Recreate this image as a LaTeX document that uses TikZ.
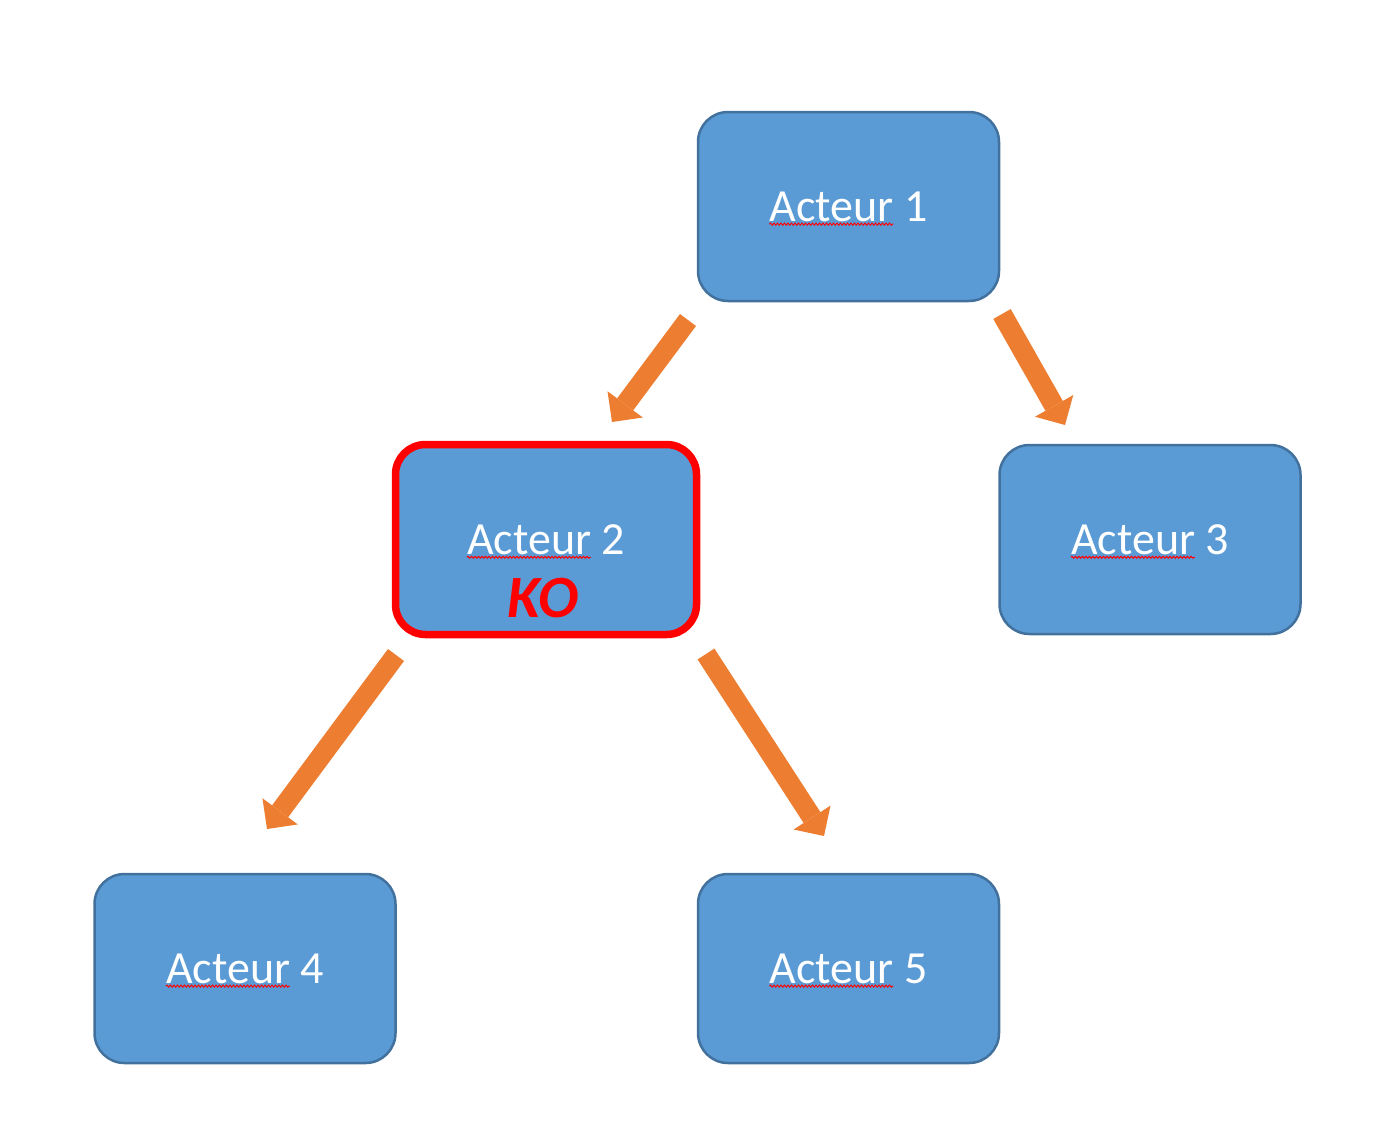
\documentclass[tikz,border=0pt]{standalone}
\usepackage{fontspec}
\setmainfont{Carlito}
\usetikzlibrary{arrows.meta,decorations.pathmorphing}
\definecolor{boxfill}{HTML}{5B9BD5}
\definecolor{boxline}{HTML}{41719C}
\definecolor{arrowc}{HTML}{ED7D31}
\definecolor{kored}{HTML}{FF0000}
\newlength\actw
\begin{document}
\settowidth{\actw}{\fontsize{46}{52}\selectfont Acteur}%
\begin{tikzpicture}[x=1pt,y=-1pt,
  actor/.style={draw=boxline, fill=boxfill, line width=2.5pt, rounded corners=30pt,
    minimum width=301pt, minimum height=189pt, inner sep=0pt},
  failed/.style={draw=kored, line width=7.5pt, minimum height=190pt},
  lbl/.style={text=white, font=\fontsize{46}{52}\selectfont, inner sep=0pt},
  kolbl/.style={text=kored, font=\fontsize{60}{66}\selectfont\bfseries\itshape, inner sep=0pt},
  spell/.style={draw=red, line width=1pt, decorate,
    decoration={snake, amplitude=1pt, segment length=3.5pt}},
  flow/.style={draw=arrowc, line width=20pt,
    -{Triangle[width=44pt,length=22pt,line width=0pt]}}]
\useasboundingbox (0,0) rectangle (1382,1120);

% boxes
\node[actor] (b1) at (848.5,206.5) {};
\node[actor,failed] (b2) at (546,539.5) {};
\node[actor] (b3) at (1150,539.5) {};
\node[actor] (b4) at (245,968.5) {};
\node[actor] (b5) at (848.5,968.5) {};

% labels
\node[lbl] (t1) at (b1.center) {Acteur 1};
\node[lbl] (t2) at (b2.center) {Acteur 2};
\node[lbl] (t3) at (b3.center) {Acteur 3};
\node[lbl] (t4) at (b4.center) {Acteur 4};
\node[lbl] (t5) at (b5.center) {Acteur 5};
\node[kolbl] (ko) at (543,598) {KO};

% spell-check underlines
\foreach \tn in {t1,t2,t3,t4,t5}{
  \draw[spell] ([yshift=-3pt]\tn.base west) -- ([yshift=-3pt,xshift=\actw]\tn.base west);
}

% arrow end points
\coordinate (a1s) at (688,320);  \coordinate (a1e) at (612,422);
\coordinate (a2s) at (1002,314); \coordinate (a2e) at (1065,425);
\coordinate (a3s) at (396,655);  \coordinate (a3e) at (267,829);
\coordinate (a4s) at (706,654);  \coordinate (a4e) at (824,836);

\draw[flow] (a1s) -- (a1e);
\draw[flow] (a2s) -- (a2e);
\draw[flow] (a3s) -- (a3e);
\draw[flow] (a4s) -- (a4e);
\end{tikzpicture}
\end{document}
